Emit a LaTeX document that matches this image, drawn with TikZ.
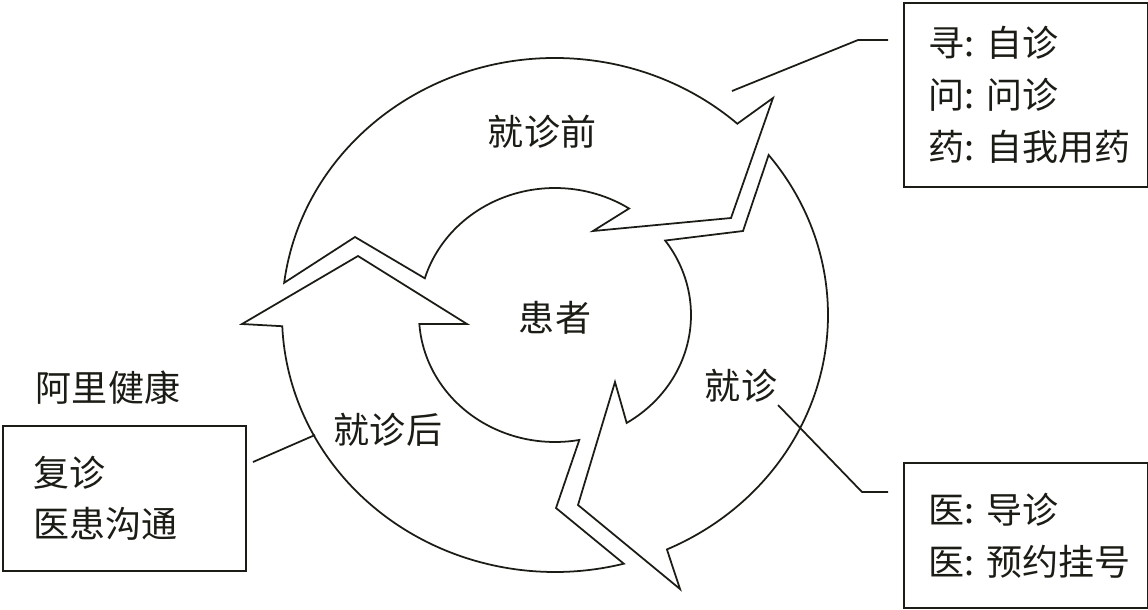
\documentclass[tikz,border=0pt]{standalone}
\usepackage{fontspec}
\newfontfamily\cjk{Noto Sans CJK SC}
\usepackage{tikz}
\usetikzlibrary{positioning}
\usetikzlibrary{calc}
\definecolor{ink}{HTML}{1C1C16}
\tikzset{
	semithick,
	cjktext/.style = {font=\cjk\fontsize{20.5}{29.5}\selectfont, text=ink},
	stage/.style = {cjktext, inner sep=0pt},
	infobox/.style = {cjktext, rectangle, draw=ink, line width=1pt, align=left,
	                  anchor=north west, inner xsep=0.5cm, inner ysep=0pt},
	ring/.style = {draw=ink, fill=white, line width=1pt},
	big ring/.style = {x radius=273, y radius=257},
	small ring/.style = {x radius=136, y radius=127},
	leader/.style = {draw=ink, line width=1pt},
}

\begin{document}
\begin{tikzpicture}[x=0.02cm, y=-0.02cm]
	\useasboundingbox (0,0) rectangle (1148,609);
	\coordinate (C) at (555,315);
	\draw[ring] ($(C)+(187.2:273 and 257)$) arc[big ring, start angle=187.2, end angle=311.9]
		-- (773,98) -- (731,218) -- (593,231)
		-- ($(C)+(303:136 and 127)$) arc[small ring, start angle=303, end angle=196.8]
		-- (355,237) -- cycle;
	\draw[ring] ($(C)+(321.5:273 and 257)$) arc[big ring, start angle=321.5, end angle=425.8]
		-- (680,589) -- (578,505) -- (615,382)
		-- ($(C)+(58.2:136 and 127)$) arc[small ring, start angle=58.2, end angle=-35.9]
		-- (743,231) -- cycle;
	\draw[ring] ($(C)+(75.4:273 and 257)$) arc[big ring, start angle=75.4, end angle=177.5]
		-- (242,324) -- (358,256) -- (467,324)
		-- ($(C)+(175.9:136 and 127)$) arc[small ring, start angle=175.9, end angle=79.7]
		-- (556,508) -- cycle;

	\node (Patient) [stage] at (555,318) {患者};
	\node (Before) [stage] at (542,132) {就诊前};
	\node (During) [stage] at (741,386) {就诊};
	\node (After) [stage] at (388,430) {就诊后};
	\node (Ali) [stage] at (108,388) {阿里健康};

	\node (BeforeBox) [infobox, text width=3.88cm, minimum height=3.68cm] at (903,2) {寻:~自诊\\问:~问诊\\药:~自我用药};
	\node (DuringBox) [infobox, text width=3.88cm, minimum height=2.9cm] at (903,462) {医:~导诊\\医:~预约挂号};
	\node (AfterBox) [infobox, inner xsep=0.62cm, text width=3.62cm, minimum height=2.9cm] at (2,425) {复诊\\医患沟通};

	\coordinate (BeforeFoot) at (732,91);
	\coordinate (BeforeKnee) at (858,40);
	\coordinate (BeforeEnd) at (888,40);
	\coordinate (DuringFoot) at (778,405);
	\coordinate (DuringKnee) at (862,492);
	\coordinate (DuringEnd) at (888,492);
	\coordinate (AfterFoot) at (315,435);
	\coordinate (AfterEnd) at (253,462);
	\draw[leader] (BeforeFoot) -- (BeforeKnee) -- (BeforeEnd);
	\draw[leader] (DuringFoot) -- (DuringKnee) -- (DuringEnd);
	\draw[leader] (AfterFoot) -- (AfterEnd);
\end{tikzpicture}
\end{document}
